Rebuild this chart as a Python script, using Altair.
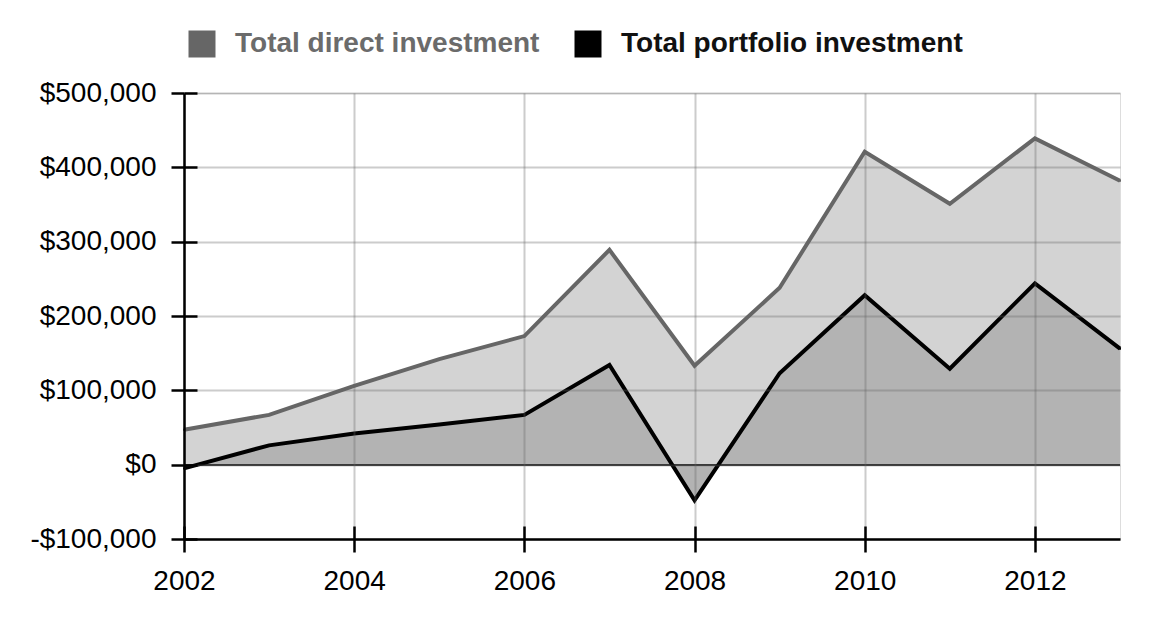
import altair as alt
import pandas as pd

years = list(range(2002, 2014))
direct = [47000, 67000, 106000, 142000, 173000, 289000, 133000, 238000, 421000, 351000, 439000, 382000]
portfolio = [-5000, 26000, 42000, 54000, 67000, 134000, -48000, 123000, 228000, 129000, 244000, 156000]
series_names = ["Total direct investment", "Total portfolio investment"]
x_ticks = [2002, 2004, 2006, 2008, 2010, 2012]
y_ticks = [-100000, 0, 100000, 200000, 300000, 400000, 500000]

df = pd.DataFrame({
    "year": years * 2,
    "value": direct + portfolio,
    "series": [series_names[0]] * len(years) + [series_names[1]] * len(years),
})

FONT = "Liberation Sans"
xscale = alt.Scale(domain=[2002, 2013], nice=False, zero=False)
yscale = alt.Scale(domain=[-100000, 500000], nice=False)

x_main_axis = alt.Axis(
    orient="bottom", values=x_ticks, format="d", title=None, grid=True,
    gridColor="#646464", gridOpacity=0.33, gridWidth=2,
    domainColor="#000000", domainWidth=2.5, tickColor="#000000", tickWidth=2.5,
    tickSize=13, labelPadding=15, labelFont=FONT, labelFontSize=28,
    labelColor="#000000", labelFlush=False, zindex=1,
)
y_main_axis = alt.Axis(
    orient="left", values=y_ticks, title=None, grid=True,
    gridColor="#646464", gridOpacity=0.33, gridWidth=2,
    domainColor="#000000", domainWidth=2.5, tickColor="#000000", tickWidth=2.5,
    tickSize=13, labelPadding=15, labelFont=FONT, labelFontSize=28,
    labelColor="#000000", labelFlush=False, zindex=1,
    labelExpr="(datum.value < 0 ? '-' : '') + '$' + format(abs(datum.value), ',')",
)
x_in_axis = alt.Axis(
    orient="bottom", values=x_ticks, title=None, grid=False, domain=False,
    labels=False, ticks=True, tickSize=13, offset=-13, tickColor="#000000",
    tickWidth=2.5, zindex=1,
)
y_in_axis = alt.Axis(
    orient="left", values=y_ticks, title=None, grid=False, domain=False,
    labels=False, ticks=True, tickSize=13, offset=-13, tickColor="#000000",
    tickWidth=2.5, zindex=1,
)

base = alt.Chart(df)

area_direct = base.transform_filter(
    alt.datum.series == series_names[0]
).mark_area(color="#d3d3d3").encode(
    x=alt.X("year:Q", scale=xscale, axis=x_main_axis),
    y=alt.Y("value:Q", scale=yscale, axis=y_main_axis, stack=None),
)
area_port = base.transform_filter(
    alt.datum.series == series_names[1]
).mark_area(color="#b3b3b3").encode(
    x=alt.X("year:Q", scale=xscale, axis=None),
    y=alt.Y("value:Q", scale=yscale, axis=None, stack=None),
)
zero_rule = alt.Chart(df).mark_rule(color="#333333", strokeWidth=1.5).encode(
    y=alt.YDatum(0, type="quantitative", scale=yscale, axis=None),
)
points = base.mark_square(size=4, filled=True, opacity=1).encode(
    x=alt.X("year:Q", scale=xscale, axis=x_in_axis),
    y=alt.Y("value:Q", scale=yscale, axis=y_in_axis),
    color=alt.Color(
        "series:N",
        scale=alt.Scale(domain=series_names, range=["#666666", "#000000"]),
        legend=alt.Legend(
            title=None, orient="none", legendX=4, legendY=-63,
            direction="horizontal", symbolType="square", symbolSize=729,
            symbolStrokeWidth=0, labelFont=FONT, labelFontSize=28,
            labelFontWeight="bold", labelOffset=19, columnPadding=34,
            labelLimit=1000, padding=0,
            labelColor=alt.ExprRef(
                "datum.label === 'Total direct investment' ? '#6b6b6b' : '#111111'"
            ),
        ),
    ),
)
line_direct = base.transform_filter(
    alt.datum.series == series_names[0]
).mark_line(color="#666666", strokeWidth=4).encode(
    x=alt.X("year:Q", scale=xscale, axis=None),
    y=alt.Y("value:Q", scale=yscale, axis=None),
)
line_port = base.transform_filter(
    alt.datum.series == series_names[1]
).mark_line(color="#000000", strokeWidth=4).encode(
    x=alt.X("year:Q", scale=xscale, axis=None),
    y=alt.Y("value:Q", scale=yscale, axis=None),
)

chart = alt.layer(
    area_direct, area_port, zero_rule, points, line_direct, line_port
).resolve_axis(
    x="independent", y="independent"
).properties(
    width=936, height=446,
    autosize=alt.AutoSizeParams(type="none"),
    padding={"left": 176, "top": 85, "right": 16, "bottom": 60},
).configure_view(stroke=None).configure(font=FONT)

chart.save("out.html", embed_options={"renderer": "svg", "actions": False})
